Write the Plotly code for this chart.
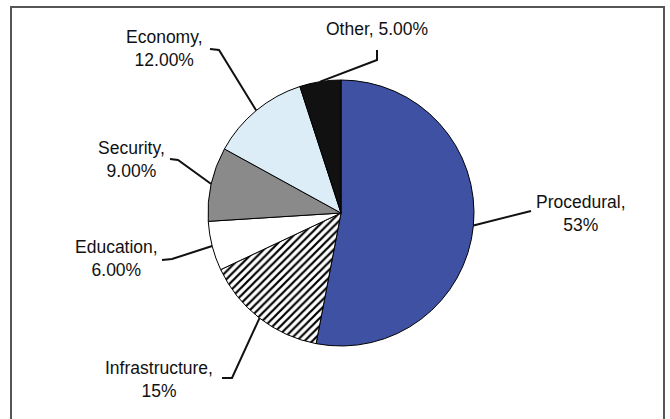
import math
import plotly.graph_objects as go

# ---- data ----
categories = ["Procedural", "Infrastructure", "Education", "Security", "Economy", "Other"]
values = [53, 15, 6, 9, 12, 5]
value_labels = ["53%", "15%", "6.00%", "9.00%", "12.00%", "5.00%"]
colors = ["#3f51a3", "#ffffff", "#ffffff", "#8a8a8a", "#dcedf7", "#111111"]
patterns = ["", "/", "", "", "", ""]

# ---- layout (pixels) ----
W, H = 670, 419
CX, CY, R = 341, 213, 133

def px(x):
    return x / W

def py(y):
    return 1 - y / H

# label block centres and leader-line elbow points (pixels)
label_pos = {
    "Procedural": (581, 213),
    "Infrastructure": (159, 379),
    "Education": (116, 258),
    "Security": (131, 160),
    "Economy": (164, 48),
    "Other": (377, 29),
}
elbows = {
    "Procedural": [(531, 211)],
    "Infrastructure": [(232, 378), (222, 378)],
    "Education": [(172, 259), (162, 260)],
    "Security": [(178, 160), (170, 159)],
    "Economy": [(219, 50), (210, 49)],
    "Other": [(377, 60), (377, 50)],
}

fig = go.Figure()
fig.add_trace(go.Pie(
    labels=categories,
    values=values,
    sort=False,
    direction="clockwise",
    rotation=0,
    textinfo="none",
    hoverinfo="label+percent",
    showlegend=False,
    marker=dict(
        colors=colors,
        line=dict(color="#000000", width=1),
        pattern=dict(shape=patterns, fgcolor="#000000", size=5.5, solidity=0.4),
    ),
    domain=dict(x=[px(CX - R), px(CX + R)], y=[py(CY + R), py(CY - R)]),
))

shapes = [dict(
    type="rect", xref="paper", yref="paper",
    x0=px(11), x1=px(664), y0=-0.05, y1=py(7),
    line=dict(color="#555555", width=2), fillcolor="rgba(0,0,0,0)",
)]
annotations = []
total = sum(values)
cum = 0
for cat, v, lab in zip(categories, values, value_labels):
    mid = (cum + v / 2) / total * 2 * math.pi
    cum += v
    ex = CX + R * math.sin(mid)
    ey = CY - R * math.cos(mid)
    pts = [(ex, ey)] + elbows[cat]
    path = "M " + " L ".join(f"{px(x):.5f},{py(y):.5f}" for x, y in pts)
    shapes.append(dict(type="path", xref="paper", yref="paper", path=path,
                       line=dict(color="#111111", width=2)))
    lx, ly = label_pos[cat]
    text = f"{cat}, {lab}" if cat == "Other" else f"{cat},<br>{lab}"
    annotations.append(dict(
        x=px(lx), y=py(ly), xref="paper", yref="paper",
        text=text, showarrow=False, align="center",
        xanchor="center", yanchor="middle",
        font=dict(family="Liberation Sans, Arial, sans-serif", size=17.5, color="#111111"),
    ))

fig.update_layout(
    width=W, height=H,
    margin=dict(l=0, r=0, t=0, b=0),
    paper_bgcolor="#ffffff",
    plot_bgcolor="#ffffff",
    shapes=shapes,
    annotations=annotations,
)

fig.write_html(
    "out.html",
    config={"displayModeBar": False},
    post_script="document.body.style.margin='0';document.body.style.padding='0';",
)
